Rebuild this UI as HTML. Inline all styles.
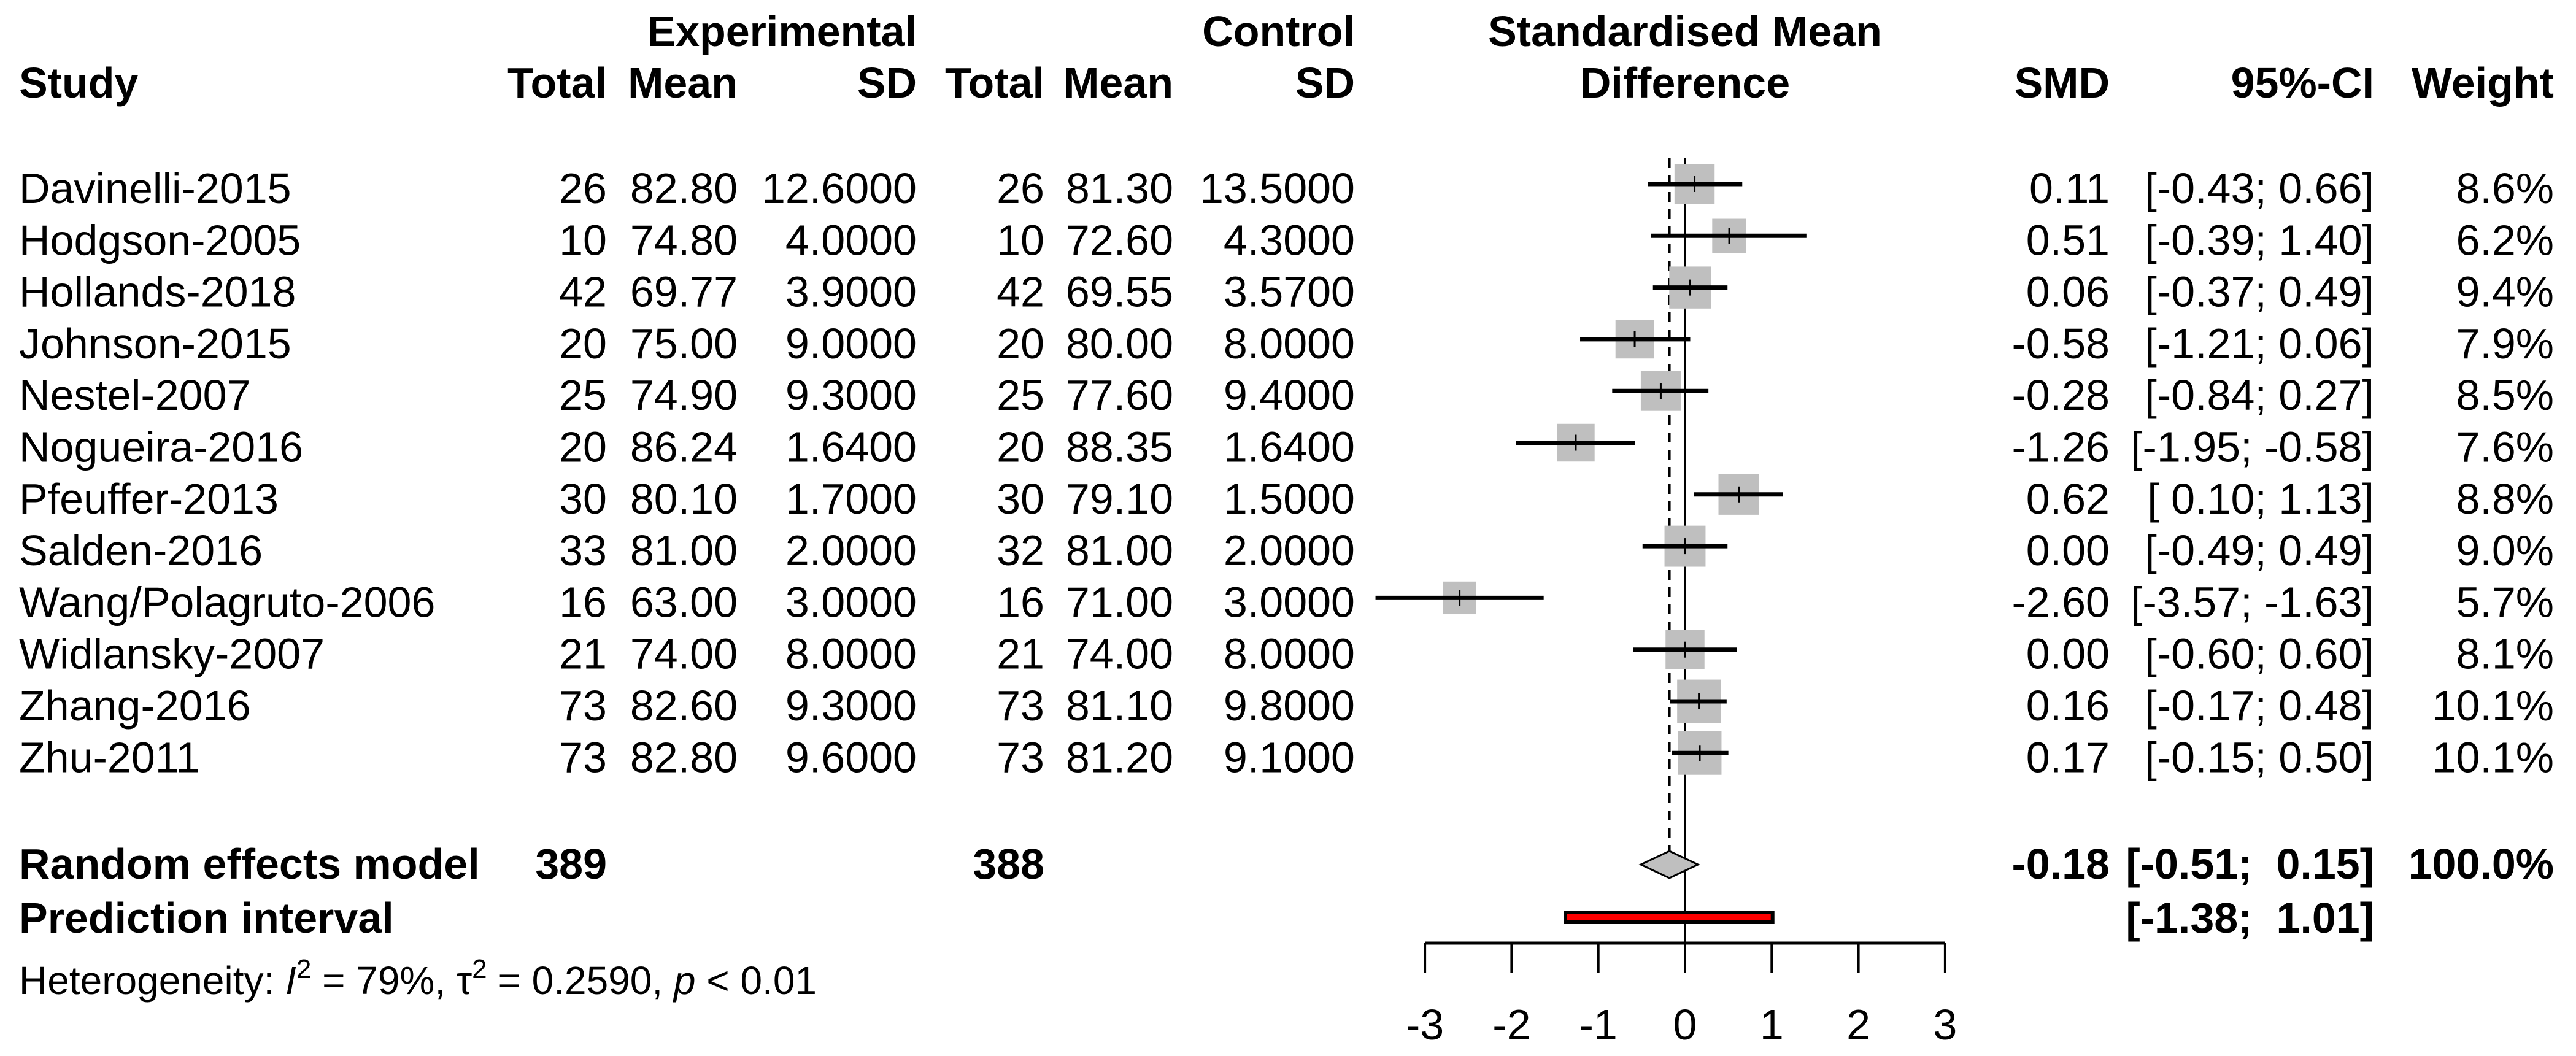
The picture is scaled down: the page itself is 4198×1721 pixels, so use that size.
<!DOCTYPE html>
<html><head><meta charset="utf-8"><style>
html,body{margin:0;padding:0;background:#fff;}
svg{display:block;font-family:"Liberation Sans",Arial,sans-serif;}
</style></head><body>
<svg id="plot" width="4198" height="1721" viewBox="0 0 4198 1721" xmlns="http://www.w3.org/2000/svg">
<g font-size="70" font-weight="bold" fill="#000">
  <text x="1494" y="75" text-anchor="end">Experimental</text>
  <text x="2208" y="75" text-anchor="end">Control</text>
  <text x="2746" y="75" text-anchor="middle">Standardised Mean</text>
  <text x="31" y="159">Study</text>
  <text x="989" y="159" text-anchor="end">Total</text>
  <text x="1202" y="159" text-anchor="end">Mean</text>
  <text x="1494" y="159" text-anchor="end">SD</text>
  <text x="1702" y="159" text-anchor="end">Total</text>
  <text x="1912" y="159" text-anchor="end">Mean</text>
  <text x="2208" y="159" text-anchor="end">SD</text>
  <text x="2746" y="159" text-anchor="middle">Difference</text>
  <text x="3438" y="159" text-anchor="end">SMD</text>
  <text x="3869" y="159" text-anchor="end">95%-CI</text>
  <text x="4162" y="159" text-anchor="end">Weight</text>
</g>
<g id="rows" font-size="70" fill="#000"></g>
<g id="marks"></g>
<g font-size="70" font-weight="bold">
  <text x="31" y="1432">Random effects model</text>
  <text x="989" y="1432" text-anchor="end">389</text>
  <text x="1702" y="1432" text-anchor="end">388</text>
  <text x="3438" y="1432" text-anchor="end">-0.18</text>
  <text x="3869" y="1432" text-anchor="end" xml:space="preserve">[-0.51;  0.15]</text>
  <text x="4162" y="1432" text-anchor="end">100.0%</text>
  <text x="31" y="1520">Prediction interval</text>
  <text x="3869" y="1520" text-anchor="end" xml:space="preserve">[-1.38;  1.01]</text>
</g>
<text x="31" y="1620" font-size="64">Heterogeneity: <tspan font-style="italic">I</tspan><tspan dy="-26" font-size="44">2</tspan><tspan dy="26"> = 79%, τ</tspan><tspan dy="-26" font-size="44">2</tspan><tspan dy="26"> = 0.2590, </tspan><tspan font-style="italic">p</tspan> &lt; 0.01</text>
<g id="axis"></g>
</svg>
<script>
const studies=["Davinelli-2015","Hodgson-2005","Hollands-2018","Johnson-2015","Nestel-2007","Nogueira-2016","Pfeuffer-2013","Salden-2016","Wang/Polagruto-2006","Widlansky-2007","Zhang-2016","Zhu-2011"];
const expTotal=["26","10","42","20","25","20","30","33","16","21","73","73"];
const expMean=["82.80","74.80","69.77","75.00","74.90","86.24","80.10","81.00","63.00","74.00","82.60","82.80"];
const expSD=["12.6000","4.0000","3.9000","9.0000","9.3000","1.6400","1.7000","2.0000","3.0000","8.0000","9.3000","9.6000"];
const ctrlTotal=["26","10","42","20","25","20","30","32","16","21","73","73"];
const ctrlMean=["81.30","72.60","69.55","80.00","77.60","88.35","79.10","81.00","71.00","74.00","81.10","81.20"];
const ctrlSD=["13.5000","4.3000","3.5700","8.0000","9.4000","1.6400","1.5000","2.0000","3.0000","8.0000","9.8000","9.1000"];
const smd=[0.11,0.51,0.06,-0.58,-0.28,-1.26,0.62,0.00,-2.60,0.00,0.16,0.17];
const ciLow=[-0.43,-0.39,-0.37,-1.21,-0.84,-1.95,0.10,-0.49,-3.57,-0.60,-0.17,-0.15];
const ciHigh=[0.66,1.40,0.49,0.06,0.27,-0.58,1.13,0.49,-1.63,0.60,0.48,0.50];
const weights=[8.6,6.2,9.4,7.9,8.5,7.6,8.8,9.0,5.7,8.1,10.1,10.1];
const pooled=[-0.18,-0.51,0.15];
const predInterval=[-1.38,1.01];
const ticks=[-3,-2,-1,0,1,2,3];

const NS="http://www.w3.org/2000/svg";
const x=v=>2746+v*141.3;
const rowBase=i=>331+i*84.3;
function mk(tag,attrs,parent){const e=document.createElementNS(NS,tag);for(const k in attrs)e.setAttribute(k,attrs[k]);parent.appendChild(e);return e;}
const rows=document.getElementById('rows'),marks=document.getElementById('marks'),axis=document.getElementById('axis');
const f2=v=>(v<0?"-":"")+Math.abs(v).toFixed(2);
const fci=v=>v<0?f2(v):" "+f2(v);
let l0=mk('line',{x1:x(0),x2:x(0),y1:257,y2:1537,stroke:'#000','stroke-width':4},marks);


let ld=mk('line',{x1:x(pooled[0]),x2:x(pooled[0]),y1:257,y2:1388,stroke:'#000','stroke-width':4,'stroke-dasharray':'16,12'},marks);


studies.forEach((s,i)=>{
  const b=rowBase(i),c=b-31;
  const cols=[[31,s,'start','study-name'],[989,expTotal[i],'end','exp-total'],[1202,expMean[i],'end','exp-mean'],[1494,expSD[i],'end','exp-sd'],[1702,ctrlTotal[i],'end','ctrl-total'],[1912,ctrlMean[i],'end','ctrl-mean'],[2208,ctrlSD[i],'end','ctrl-sd'],[3438,f2(smd[i]),'end','smd-value'],[3869,'['+fci(ciLow[i])+'; '+fci(ciHigh[i])+']','end','ci-value'],[4162,weights[i].toFixed(1)+'%','end','weight-value']];
  cols.forEach(cl=>{const t=mk('text',{x:cl[0],y:b,'text-anchor':cl[2]},rows);t.setAttribute('xml:space','preserve');t.textContent=cl[1];
    
    });
  const side=22.3*Math.sqrt(weights[i]);
  const sq=mk('rect',{x:x(smd[i])-side/2,y:c-side/2,width:side,height:side,fill:'#bfbfbf'},marks);
  
  
  const ln=mk('line',{x1:x(ciLow[i]),x2:x(ciHigh[i]),y1:c,y2:c,stroke:'#000','stroke-width':7},marks);
  
  
  const tk=mk('line',{x1:x(smd[i]),x2:x(smd[i]),y1:c-13,y2:c+13,stroke:'#000','stroke-width':3},marks);
  
  
});
const dy=1409;
const dm=mk('polygon',{points:`${x(pooled[1])},${dy} ${x(pooled[0])},${dy-22} ${x(pooled[2])},${dy} ${x(pooled[0])},${dy+22}`,fill:'#bfbfbf',stroke:'#000','stroke-width':3},marks);


const pr=mk('rect',{x:x(predInterval[0]),y:1487,width:x(predInterval[1])-x(predInterval[0]),height:16,fill:'#ff0000',stroke:'#000','stroke-width':6},marks);


const al=mk('line',{x1:x(ticks[0]),x2:x(ticks[ticks.length-1]),y1:1537,y2:1537,stroke:'#000','stroke-width':5},axis);


ticks.forEach(t=>{
  const tl=mk('line',{x1:x(t),x2:x(t),y1:1537,y2:1585,stroke:'#000','stroke-width':4},axis);
  
  
  const tx=mk('text',{x:x(t),y:1694,'text-anchor':'middle','font-size':70},axis);
  tx.textContent=t;
  
  
});
</script>
</body></html>
